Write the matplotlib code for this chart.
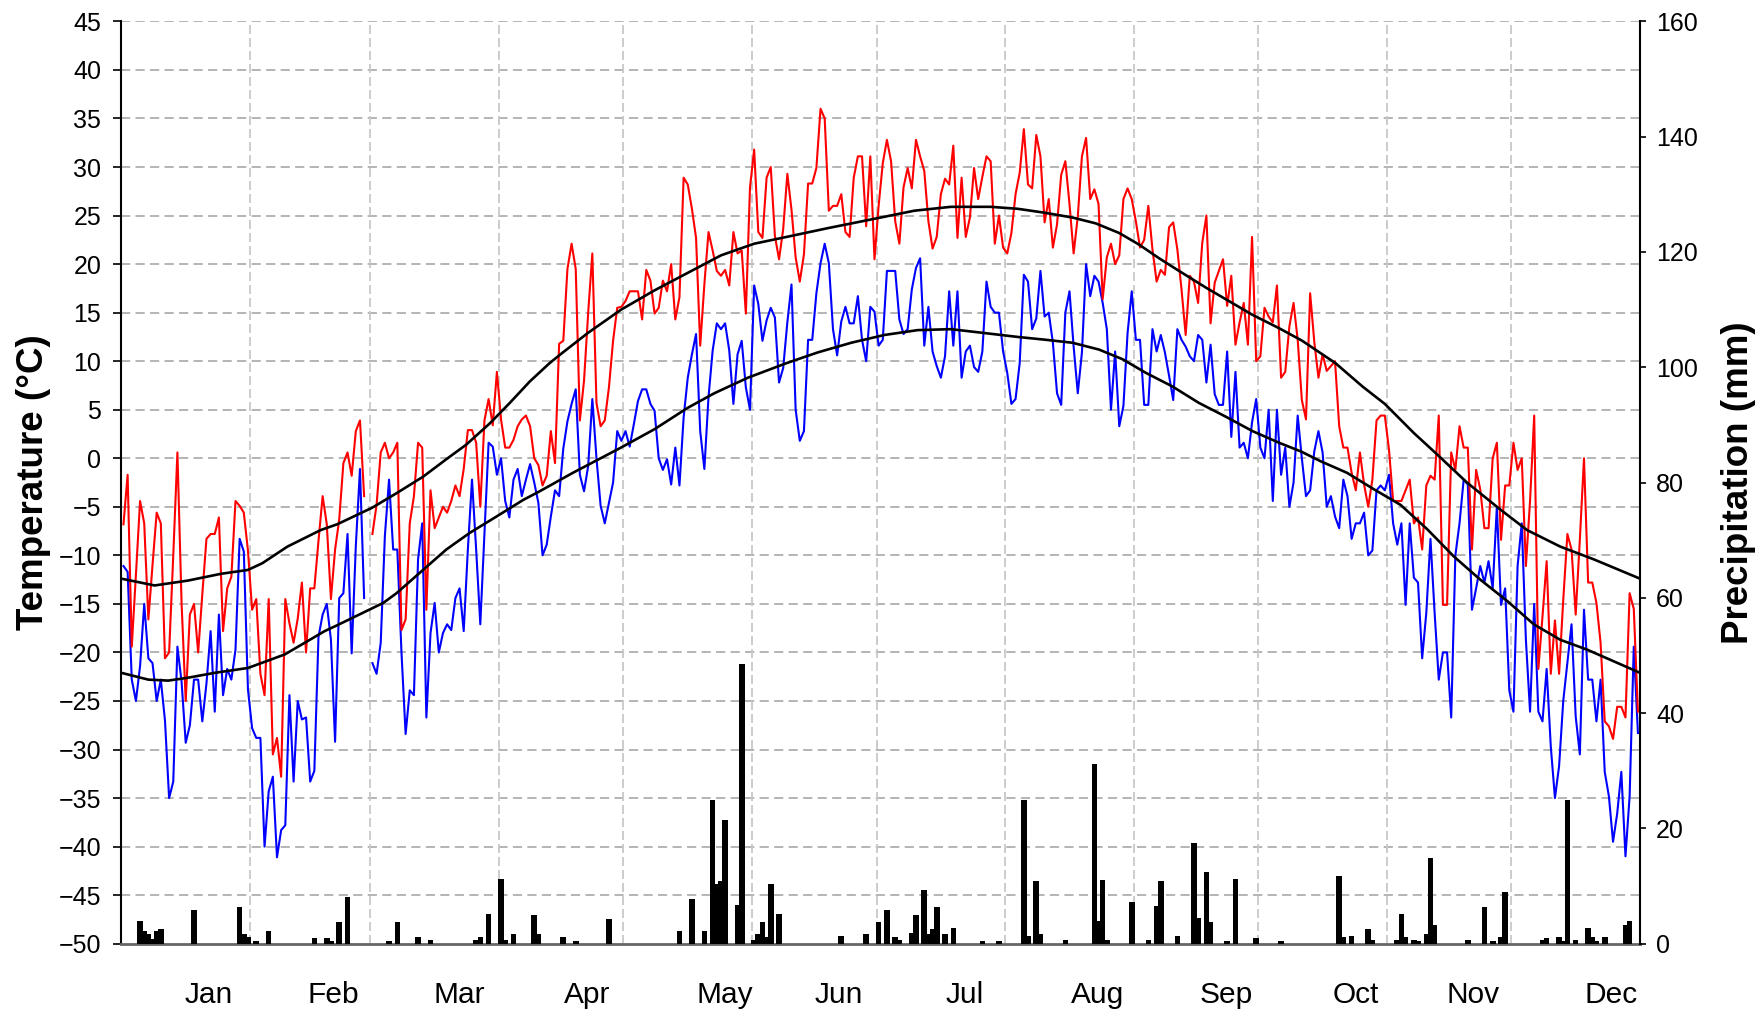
import numpy as np
import matplotlib
matplotlib.use("Agg")
import matplotlib.pyplot as plt

plt.rcParams['font.family'] = ['Liberation Sans', 'DejaVu Sans']
nan = np.nan

# ---------------- data ----------------
months = ['Jan', 'Feb', 'Mar', 'Apr', 'May', 'Jun', 'Jul', 'Aug', 'Sep', 'Oct', 'Nov', 'Dec']
days_in_month = [31, 29, 31, 30, 31, 30, 31, 31, 30, 31, 30, 31]

# daily maximum temperature (deg C), day index 0..365
tmax = [-6.8, -1.7, -19.4, -12.0, -4.4, -6.7, -16.6, -11.0, -5.6, -6.7,
        -20.6, -20.0, -10.0, 0.6, -14.9, -25.0, -16.1, -15.0, -20.0, -14.0,
        -8.3, -7.8, -7.8, -6.1, -17.8, -13.4, -12.2, -4.4, -4.9, -5.6,
        -9.5, -15.6, -14.5, -22.2, -24.4, -14.5, -30.5, -28.8, -32.8, -14.5,
        -17.0, -19.0, -16.5, -12.8, -20.0, -13.4, -13.4, -8.5, -3.9, -6.8,
        -14.5, -9.4, -6.3, -0.5, 0.6, -1.8, 2.8, 3.9, -3.9, nan,
        -7.8, -4.8, 0.6, 1.6, 0.0, 0.6, 1.6, -17.7, -16.6, -6.7,
        -3.9, 1.6, 1.1, -15.6, -3.3, -7.2, -6.1, -5.0, -5.6, -4.4,
        -2.8, -3.9, -1.1, 2.9, 2.9, 1.6, -5.0, 3.9, 6.1, 3.4,
        8.9, 4.0, 1.1, 1.1, 1.9, 3.3, 4.0, 4.4, 3.3, 0.0,
        -0.7, -2.8, -1.8, 2.8, -0.5, 11.8, 12.1, 19.5, 22.1, 19.5,
        3.9, 8.0, 15.0, 21.1, 5.7, 3.3, 3.9, 7.3, 12.1, 15.5,
        15.6, 16.2, 17.2, 17.2, 17.2, 14.3, 19.4, 18.3, 14.9, 15.5,
        18.3, 17.2, 20.0, 14.3, 16.6, 28.9, 28.2, 25.7, 22.7, 11.6,
        17.9, 23.3, 21.4, 19.3, 18.8, 19.4, 17.8, 23.3, 21.1, 21.4,
        14.9, 27.9, 31.8, 23.3, 22.7, 28.9, 30.0, 22.9, 20.5, 23.6,
        29.3, 25.6, 20.7, 18.2, 21.0, 28.3, 28.3, 29.9, 36.0, 35.0,
        25.5, 26.0, 26.0, 27.2, 23.3, 22.8, 28.9, 31.1, 31.1, 23.9,
        31.1, 20.5, 26.0, 30.4, 32.8, 30.6, 24.4, 22.1, 27.9, 29.9,
        27.8, 32.8, 31.1, 29.6, 24.4, 21.6, 22.8, 27.2, 28.8, 28.2,
        32.2, 22.7, 28.9, 22.8, 24.8, 29.9, 26.7, 29.0, 31.1, 30.6,
        22.1, 25.0, 21.7, 21.1, 23.2, 27.2, 29.4, 33.9, 28.2, 27.8,
        33.3, 31.1, 24.3, 26.7, 21.7, 24.1, 29.2, 30.6, 26.2, 21.1,
        24.9, 31.1, 33.0, 26.7, 27.7, 26.2, 16.4, 20.7, 22.1, 20.0,
        20.9, 26.7, 27.8, 26.7, 24.4, 21.7, 22.5, 26.0, 21.5, 18.2,
        19.4, 18.9, 23.8, 24.3, 21.5, 17.4, 12.7, 18.8, 18.2, 16.0,
        22.2, 25.0, 13.9, 18.1, 19.3, 20.5, 15.7, 18.8, 11.7, 14.0,
        16.0, 11.7, 22.8, 10.0, 10.5, 15.5, 14.6, 14.0, 17.8, 8.3,
        8.9, 13.6, 16.0, 12.2, 6.0, 4.0, 17.0, 12.0, 8.3, 10.7,
        9.0, 9.5, 10.0, 3.3, 1.1, 1.1, -1.5, -3.3, 0.6, -2.7,
        -5.0, -2.2, 3.9, 4.4, 4.4, 0.9, -4.4, -4.4, -4.4, -3.3,
        -2.2, -6.7, -6.1, -9.4, -2.8, -1.8, -2.2, 4.4, -15.1, -15.1,
        0.6, -1.2, 3.3, 1.1, 1.1, -9.4, -1.2, -3.2, -7.2, -7.2,
        0.0, 1.6, -8.4, -2.8, -2.8, 1.6, -1.2, 0.0, -11.1, -4.4,
        4.4, -21.7, -16.3, -10.6, -22.2, -16.7, -22.2, -14.6, -7.8, -9.4,
        -16.1, -8.4, 0.0, -12.8, -12.8, -14.9, -19.0, -27.1, -27.6, -28.9,
        -25.6, -25.6, -26.7, -13.9, -15.5, -26.1]

# daily minimum temperature (deg C)
tmin = [-11.1, -11.7, -22.8, -25.0, -21.4, -15.0, -20.6, -21.1, -25.0, -22.8,
        -27.0, -35.0, -33.3, -19.4, -23.0, -29.3, -27.5, -22.8, -22.8, -27.1,
        -23.2, -17.8, -26.1, -16.1, -24.4, -21.7, -22.8, -19.7, -8.3, -9.6,
        -23.8, -27.8, -28.8, -28.8, -40.0, -34.3, -32.8, -41.1, -38.3, -37.8,
        -24.4, -33.3, -25.0, -26.9, -26.7, -33.3, -32.2, -18.4, -16.1, -15.0,
        -18.7, -29.2, -14.4, -13.9, -7.8, -20.1, -9.0, -1.1, -14.4, nan,
        -21.1, -22.2, -19.0, -8.0, -2.2, -9.4, -9.4, -20.0, -28.4, -23.9,
        -24.4, -10.4, -6.7, -26.7, -18.0, -14.9, -20.0, -18.0, -17.1, -17.7,
        -14.4, -13.4, -17.8, -9.4, -2.2, -9.4, -17.1, -7.7, 1.6, 1.2,
        -1.7, 0.0, -4.4, -6.1, -2.2, -1.1, -3.9, -2.2, -0.6, -2.5,
        -4.6, -10.0, -8.9, -6.0, -3.3, -3.9, 1.0, 3.8, 5.6, 7.1,
        -1.7, -3.4, -0.8, 6.1, 0.0, -4.9, -6.7, -4.6, -2.5, 2.8,
        1.8, 2.8, 1.2, 3.5, 5.9, 7.1, 7.1, 5.6, 4.9, 0.0,
        -1.2, -0.1, -2.7, 1.1, -2.8, 4.2, 8.3, 10.7, 12.8, 2.8,
        -1.1, 6.3, 11.1, 13.9, 13.3, 13.9, 11.1, 5.6, 10.7, 12.1,
        7.3, 5.0, 17.8, 15.9, 12.1, 14.2, 15.5, 14.5, 7.8, 9.3,
        14.0, 17.9, 5.0, 1.8, 2.8, 12.2, 12.2, 17.0, 20.1, 22.1,
        20.1, 13.3, 10.6, 14.1, 15.6, 13.9, 13.9, 16.7, 12.2, 10.0,
        15.6, 15.1, 11.6, 12.2, 19.3, 19.3, 19.3, 14.3, 12.8, 13.3,
        17.4, 19.6, 20.6, 11.6, 15.6, 11.0, 9.5, 8.3, 10.5, 17.2,
        11.6, 17.2, 8.3, 11.0, 11.6, 9.4, 8.9, 11.0, 18.2, 15.6,
        15.0, 15.0, 11.0, 8.8, 5.6, 6.1, 9.8, 18.9, 18.2, 13.3,
        14.4, 19.3, 14.6, 15.0, 11.9, 6.7, 5.5, 15.0, 17.2, 11.5,
        6.7, 10.9, 20.0, 16.7, 18.8, 18.2, 16.0, 13.3, 5.0, 11.0,
        3.3, 5.4, 12.9, 17.2, 12.2, 12.2, 5.5, 5.5, 13.3, 11.0,
        12.7, 10.9, 8.5, 6.0, 13.3, 12.2, 11.5, 10.5, 10.0, 12.7,
        12.2, 7.8, 11.7, 6.6, 5.5, 5.5, 11.0, 2.2, 8.9, 1.1,
        1.6, 0.0, 3.7, 6.1, 1.1, 0.0, 5.0, -4.4, 5.0, -1.7,
        1.1, -5.0, -2.5, 4.4, 0.0, -3.9, -3.3, 0.7, 2.8, 0.6,
        -5.0, -3.9, -6.0, -7.2, -2.2, -3.9, -8.3, -6.7, -6.7, -5.6,
        -10.0, -9.5, -3.3, -2.8, -3.3, -1.7, -6.7, -8.9, -6.7, -15.1,
        -6.7, -12.3, -12.8, -20.6, -15.9, -8.3, -15.9, -22.8, -20.0, -20.0,
        -26.7, -10.0, -6.7, -2.2, -2.7, -15.6, -13.4, -11.1, -12.8, -10.6,
        -13.4, -5.0, -15.1, -13.4, -23.9, -26.1, -11.1, -6.7, -18.7, -26.1,
        -15.0, -26.1, -27.1, -21.7, -29.7, -35.0, -31.7, -25.0, -21.1, -17.1,
        -26.6, -30.5, -15.6, -22.8, -22.8, -27.1, -22.8, -32.3, -34.8, -39.5,
        -36.6, -32.3, -41.0, -34.8, -19.4, -28.3]

# normal maximum temperature curve (day, deg C)
norm_hi_day = [0, 8, 16, 24, 30.5, 34, 40, 48, 52, 60.4, 66.3, 72.7, 78.3, 83.1, 88.8,
               93.6, 98.4, 103.2, 106.1, 112.4, 120.4, 128.5, 136.5, 144.5, 152.5,
               160.3, 170.2, 180.7, 191.1, 199.9, 209.5, 216, 222.4, 229.2, 234.8,
               240.5, 245.3, 250.1, 254.9, 261.3, 266.1, 272.5, 279, 284.6, 292.6,
               299.1, 304.5, 311.5, 317.1, 324.3, 332.4, 338.8, 346.8, 354.8, 366]
norm_hi = [-12.4, -13.1, -12.6, -11.9, -11.5, -10.8, -9.1, -7.4, -6.8, -5.1, -3.6, -1.9, -0.1, 1.4, 3.6,
           5.7, 7.9, 9.8, 10.8, 12.9, 15.3, 17.3, 19.1, 20.9, 22.1,
           22.8, 23.7, 24.6, 25.5, 25.9, 25.9, 25.7, 25.3, 24.8, 24.2,
           23.2, 22.0, 20.6, 19.3, 17.6, 16.4, 14.8, 13.4, 12.1, 9.8,
           7.4, 5.6, 2.6, 0.4, -2.5, -5.3, -7.4, -9.1, -10.4, -12.4]

# normal minimum temperature curve (day, deg C)
norm_lo_day = [0, 6.5, 11.3, 16.1, 22.5, 30.5, 39.4, 44.2, 49, 52, 63.1, 66.3, 72.7, 78.3, 83.9,
               90.4, 96.8, 100.8, 108.8, 120.4, 128.5, 136.5, 142.9, 151, 160.3,
               167.8, 175.9, 183.9, 191.9, 199.9, 208, 216, 222.9, 229.2, 235.6,
               241.3, 246.9, 253.3, 259.7, 266.1, 272.6, 279, 284.3, 289, 295.4,
               301.9, 308.3, 314.7, 321.1, 327.5, 334, 340.4, 346.8, 353.2, 359.6, 366]
norm_lo = [-22.1, -22.8, -22.9, -22.6, -22.1, -21.6, -20.2, -19.0, -17.8, -17.2, -14.9, -13.9, -11.5, -9.4, -7.7,
           -6.0, -4.3, -3.4, -1.5, 1.1, 3.0, 5.2, 6.7, 8.3, 9.8,
           10.9, 11.9, 12.7, 13.2, 13.3, 12.9, 12.5, 12.2, 11.9, 11.2,
           10.2, 8.8, 7.4, 5.7, 4.3, 2.8, 1.6, 0.7, -0.3, -1.5,
           -3.2, -4.8, -7.3, -10.1, -12.5, -14.7, -17.1, -18.7, -19.7, -20.9, -22.1]

# daily precipitation (day index, mm)
precip_day = [4, 5, 6, 7, 8, 9, 17, 28, 29, 30, 32, 35, 46, 49, 50, 52, 54, 64, 66, 71, 74,
              85, 86, 88, 91, 92, 94, 99, 100, 106, 109, 117, 134, 137, 140, 142, 143, 144,
              145, 148, 149, 152, 153, 154, 155, 156, 158, 173, 179, 182, 184, 186, 187,
              190, 191, 193, 194, 195, 196, 198, 200, 207, 211, 217, 218, 220, 221, 227,
              234, 235, 236, 237, 243, 247, 249, 250, 254, 258, 259, 261, 262, 266, 268,
              273, 279, 293, 294, 296, 300, 301, 307, 308, 309, 311, 312, 314, 315, 316,
              324, 328, 330, 332, 333, 342, 343, 346, 347, 348, 350, 353, 354, 355, 357,
              362, 363]
precip_mm = [3.9, 2.2, 1.7, 0.8, 2.2, 2.5, 5.8, 6.3, 1.7, 1.2, 0.4, 2.2, 1.0, 1.0, 0.5, 3.8, 8.1,
             0.5, 3.8, 1.2, 0.6, 0.6, 1.2, 5.2, 11.3, 0.6, 1.7, 4.9, 1.7, 1.2, 0.5, 4.3, 2.2,
             7.8, 2.2, 25.0, 10.3, 10.9, 21.4, 6.8, 48.6, 0.6, 1.7, 3.8, 1.2, 10.3, 5.2, 1.4,
             1.7, 3.8, 5.8, 1.2, 0.6, 1.9, 4.9, 9.3, 1.7, 2.5, 6.3, 1.7, 2.7, 0.4, 0.4, 25.0,
             1.4, 10.9, 1.7, 0.6, 31.2, 3.9, 11.1, 0.6, 7.3, 0.6, 6.6, 10.9, 1.4, 17.4, 4.5,
             12.4, 3.8, 0.4, 11.3, 1.0, 0.4, 11.8, 1.2, 1.4, 2.5, 0.6, 0.6, 5.2, 1.2, 0.6, 0.4,
             1.7, 14.8, 3.3, 0.6, 6.3, 0.4, 1.2, 9.0, 0.6, 1.0, 1.2, 0.4, 25.0, 0.6, 2.7, 1.2,
             0.4, 1.2, 3.2, 3.9]

# ---------------- layout ----------------
W, H = 1762, 1016
L, R, T, B = 121.4, 1640.0, 21.4, 943.7
month_starts = np.concatenate([[0], np.cumsum(days_in_month)])
label_pos = [21, 51, 81.5, 112.3, 145.5, 172.8, 203.3, 235.3, 266.2, 297.5, 325.8, 359]

fig = plt.figure(figsize=(W / 100, H / 100), dpi=100)
fig.patch.set_facecolor('white')
ax = fig.add_axes([L / W, 1 - B / H, (R - L) / W, (B - T) / H])
ax.set_xlim(0, 366)
ax.set_ylim(-50, 45)

for y in range(-45, 46, 5):
    ax.axhline(y, color='#a0a0a0', lw=1.1, ls=(0, (6, 3.5)), zorder=0)
for d in month_starts[1:-1]:
    ax.axvline(d, color='#c8c8c8', lw=1.3, ls=(0, (5, 2.2)), zorder=0)

ax.set_yticks(np.arange(-50, 46, 5))
ax.set_xticks(label_pos)
ax.set_xticklabels(months, fontsize=21.5)
ax.tick_params(axis='x', length=0, pad=27)
ax.tick_params(axis='y', direction='out', length=5.5, width=1.2, pad=9, labelsize=18)
ax.spines['top'].set_visible(False)
ax.spines['right'].set_visible(False)
ax.spines['left'].set_linewidth(1.5)
ax.spines['bottom'].set_color('#666666')
ax.spines['bottom'].set_linewidth(2.0)
ax.set_ylabel('Temperature (°C)', fontsize=26.5, fontweight='bold')
ax.yaxis.label.set_va('center')
ax.yaxis.set_label_coords((34 - L) / (R - L), 0.5)

# precipitation axis
ax2 = ax.twinx()
ax2.patch.set_visible(False)
ax2.set_ylim(0, 160)
ax2.set_yticks(np.arange(0, 161, 20))
ax2.bar(np.array(precip_day) + 0.5, precip_mm, width=1.35, color='black', zorder=2)
ax2.tick_params(axis='y', direction='out', length=4.5, width=1.2, pad=7, labelsize=18)
for s in ['top', 'bottom', 'left']:
    ax2.spines[s].set_visible(False)
ax2.spines['right'].set_linewidth(1.5)
ax2.set_ylabel('Precipitation (mm)', fontsize=26.5, fontweight='bold')
ax2.yaxis.label.set_va('center')
ax2.yaxis.set_label_coords((1739 - L) / (R - L), 0.5)

# temperature lines on top
ax3 = ax.twinx()
ax3.patch.set_visible(False)
ax3.set_ylim(-50, 45)
ax3.set_axis_off()
x = np.arange(len(tmax)) + 0.5
ax3.plot(x, tmin, color='#0000ff', lw=1.5)
ax3.plot(x, tmax, color='#ff0000', lw=1.5)
ax3.plot(norm_hi_day, norm_hi, color='black', lw=1.9, solid_joinstyle='round')
ax3.plot(norm_lo_day, norm_lo, color='black', lw=1.9, solid_joinstyle='round')

fig.savefig('out.png', dpi=100, facecolor='white')
